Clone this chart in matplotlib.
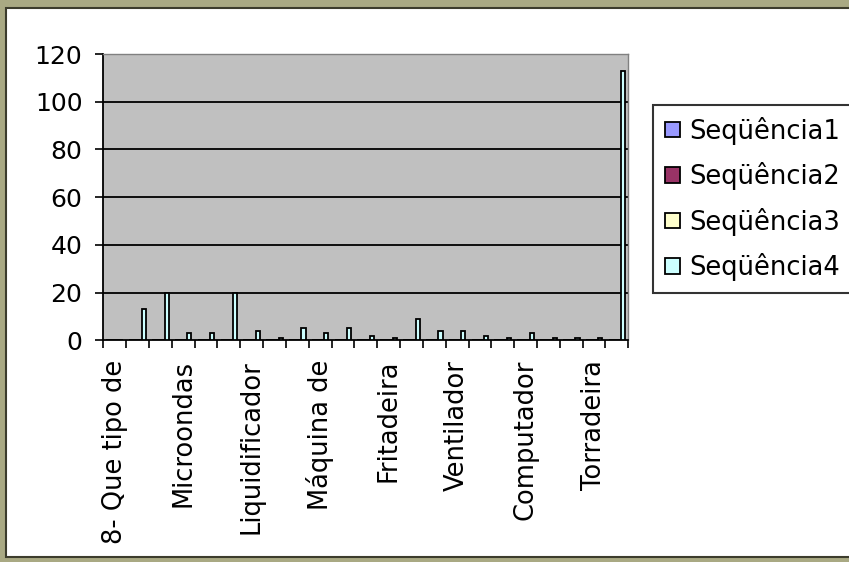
import numpy as np
import matplotlib
matplotlib.use('Agg')
import matplotlib.pyplot as plt
from matplotlib.patches import Rectangle

# Categories (only every third label is readable in the chart)
categories = ['8- Que tipo de', '', '', 'Microondas', '', '', 'Liquidificador', '', '',
              'Máquina de', '', '', 'Fritadeira', '', '', 'Ventilador', '', '',
              'Computador', '', '', 'Torradeira', '']

serie1 = [0] * 23
serie2 = [0] * 23
serie3 = [0] * 23
serie4 = [0, 13, 20, 3, 3, 20, 4, 1, 5, 3, 5, 2, 1, 9, 4, 4, 2, 1, 3, 1, 1, 1, 113]

series_names = ['Seqüência1', 'Seqüência2', 'Seqüência3', 'Seqüência4']
series_colors = ['#9999FF', '#993366', '#FFFFCC', '#CCFFFF']
yticks = [0, 20, 40, 60, 80, 100, 120]

plt.rcParams['font.family'] = ['DejaVu Sans']

W, H = 849, 562
fig = plt.figure(figsize=(W / 100, H / 100), dpi=100)
fig.patch.set_facecolor('#A9A983')

# white chart area with dark frame
fig.patches.append(Rectangle((6 / W, 5 / H), 1.0, (554 - 5) / H,
                             transform=fig.transFigure, facecolor='white',
                             edgecolor='#3C3C2C', linewidth=1.5, zorder=-1))

ax = fig.add_axes([103.3 / W, 1 - 340.3 / H, (628.3 - 103.3) / W, (340.3 - 54) / H])
ax.set_zorder(1)
ax.set_facecolor('#C0C0C0')

x = np.arange(len(categories))
w = 1 / 5.5
handles = []
for k, (vals, name, col) in enumerate(zip([serie1, serie2, serie3, serie4],
                                         series_names, series_colors)):
    b = ax.bar(x + (k - 1.5) * w, vals, width=w, color=col, edgecolor='black',
               linewidth=1.3, label=name, zorder=3)
    handles.append(b)

for v in yticks[1:-1]:
    ax.axhline(v, color='black', linewidth=1.3, zorder=2)

ax.set_xlim(-0.5, len(categories) - 0.5)
ax.set_ylim(0, 120)
ax.set_yticks(yticks)
ax.tick_params(axis='y', direction='out', length=6, width=1.2, labelsize=18, pad=9)

# ticks between categories, labels at centers
ax.set_xticks(np.arange(len(categories) + 1) - 0.5)
ax.set_xticklabels([])
ax.tick_params(axis='x', which='major', direction='out', length=6, width=1.2)
ax.set_xticks(x, minor=True)
ax.set_xticklabels(categories, minor=True, rotation=90, ha='center', va='top')
ax.tick_params(axis='x', which='minor', length=0, labelsize=18.5, pad=14)

for s in ['left', 'bottom']:
    ax.spines[s].set_color('black')
    ax.spines[s].set_linewidth(1.3)
for s in ['top', 'right']:
    ax.spines[s].set_color('#808080')
    ax.spines[s].set_linewidth(1.0)

leg = fig.legend(handles=handles, loc='upper left',
                 bbox_to_anchor=(653 / W, 1 - 105 / H, 0.3, 0), mode='expand',
                 fontsize=18.5, frameon=True, fancybox=False, edgecolor='black',
                 handlelength=0.6, handleheight=0.55, handletextpad=0.35,
                 labelspacing=0.68, borderpad=0.45, borderaxespad=0)
leg.get_frame().set_linewidth(1.5)

fig.savefig('out.png', dpi=100)
